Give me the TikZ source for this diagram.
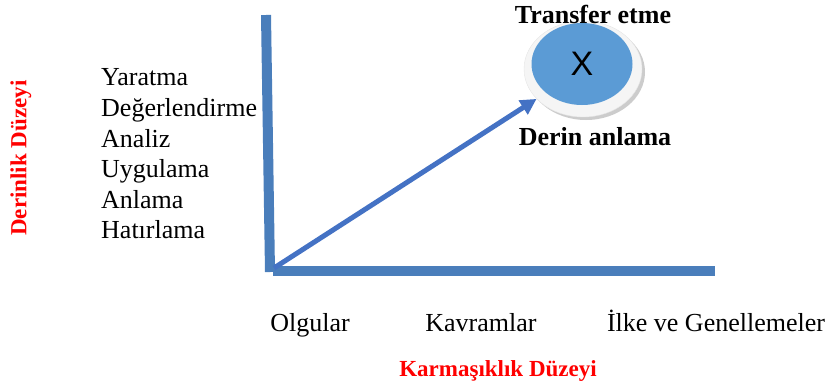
\documentclass[tikz,border=0pt]{standalone}
\usepackage{fontspec}
\setmainfont{Liberation Serif}
\newfontfamily\xfont{Liberation Sans}
\usetikzlibrary{arrows.meta,shapes.geometric}
\definecolor{axisblue}{HTML}{4A7EBB}
\definecolor{arrowblue}{HTML}{4472C4}
\definecolor{ballblue}{HTML}{5B9BD5}

\begin{document}
\begin{tikzpicture}[x=1pt, y=-1pt,
  axis/.style={line width=10pt, draw=axisblue},
  levelitem/.style={anchor=base west, inner sep=0pt, font=\fontsize{26}{30}\selectfont},
  kinditem/.style={anchor=base, inner sep=0pt, font=\fontsize{26}{30}\selectfont},
  boldlabel/.style={anchor=base, inner sep=0pt, font=\fontsize{26}{30}\selectfont\bfseries},
  redlabel/.style={inner sep=0pt, text=red, font=\fontsize{23}{27}\selectfont\bfseries}]
\useasboundingbox (0,0) rectangle (829,383);

% axes
\coordinate (ytop) at (266,15);
\coordinate (ybot) at (270,272);
\coordinate (xleft) at (273,271);
\coordinate (xright) at (715,271);
\draw[axis] (ytop) -- (ybot);
\draw[axis] (xleft) -- (xright);

% target ellipse
\node [ellipse, fill=gray!40, minimum width=118pt, minimum height=96pt] (shade) at (586,72) {};
\node [ellipse, fill=gray!8, draw=gray!20, minimum width=118pt, minimum height=96pt] (ring) at (583,69) {};
\node [ellipse, fill=ballblue, minimum width=101pt, minimum height=82pt] (ball) at (582,64) {\xfont\fontsize{34}{38}\selectfont X};

\node [boldlabel] (transfer) at (593,23) {Transfer etme};
\node [boldlabel] (deep) at (595,145) {Derin anlama};

% arrow
\coordinate (origin) at (274,268);
\draw[line width=5pt, draw=arrowblue, -{Triangle[length=16pt,width=16pt]}] (origin) -- (ring);

% depth levels
\node [levelitem] (l1) at (101,85) {Yaratma};
\node [levelitem] (l2) at (101,116) {Değerlendirme};
\node [levelitem] (l3) at (101,147) {Analiz};
\node [levelitem] (l4) at (101,177) {Uygulama};
\node [levelitem] (l5) at (101,208) {Anlama};
\node [levelitem] (l6) at (101,238) {Hatırlama};
\node [redlabel, rotate=90] (depth) at (21,158) {Derinlik Düzeyi};

% knowledge kinds
\node [kinditem] (k1) at (310,331) {Olgular};
\node [kinditem] (k2) at (481,331) {Kavramlar};
\node [kinditem] (k3) at (716,331) {İlke ve Genellemeler};
\node [redlabel, anchor=base] (complexity) at (498,376) {Karmaşıklık Düzeyi};
\end{tikzpicture}
\end{document}
